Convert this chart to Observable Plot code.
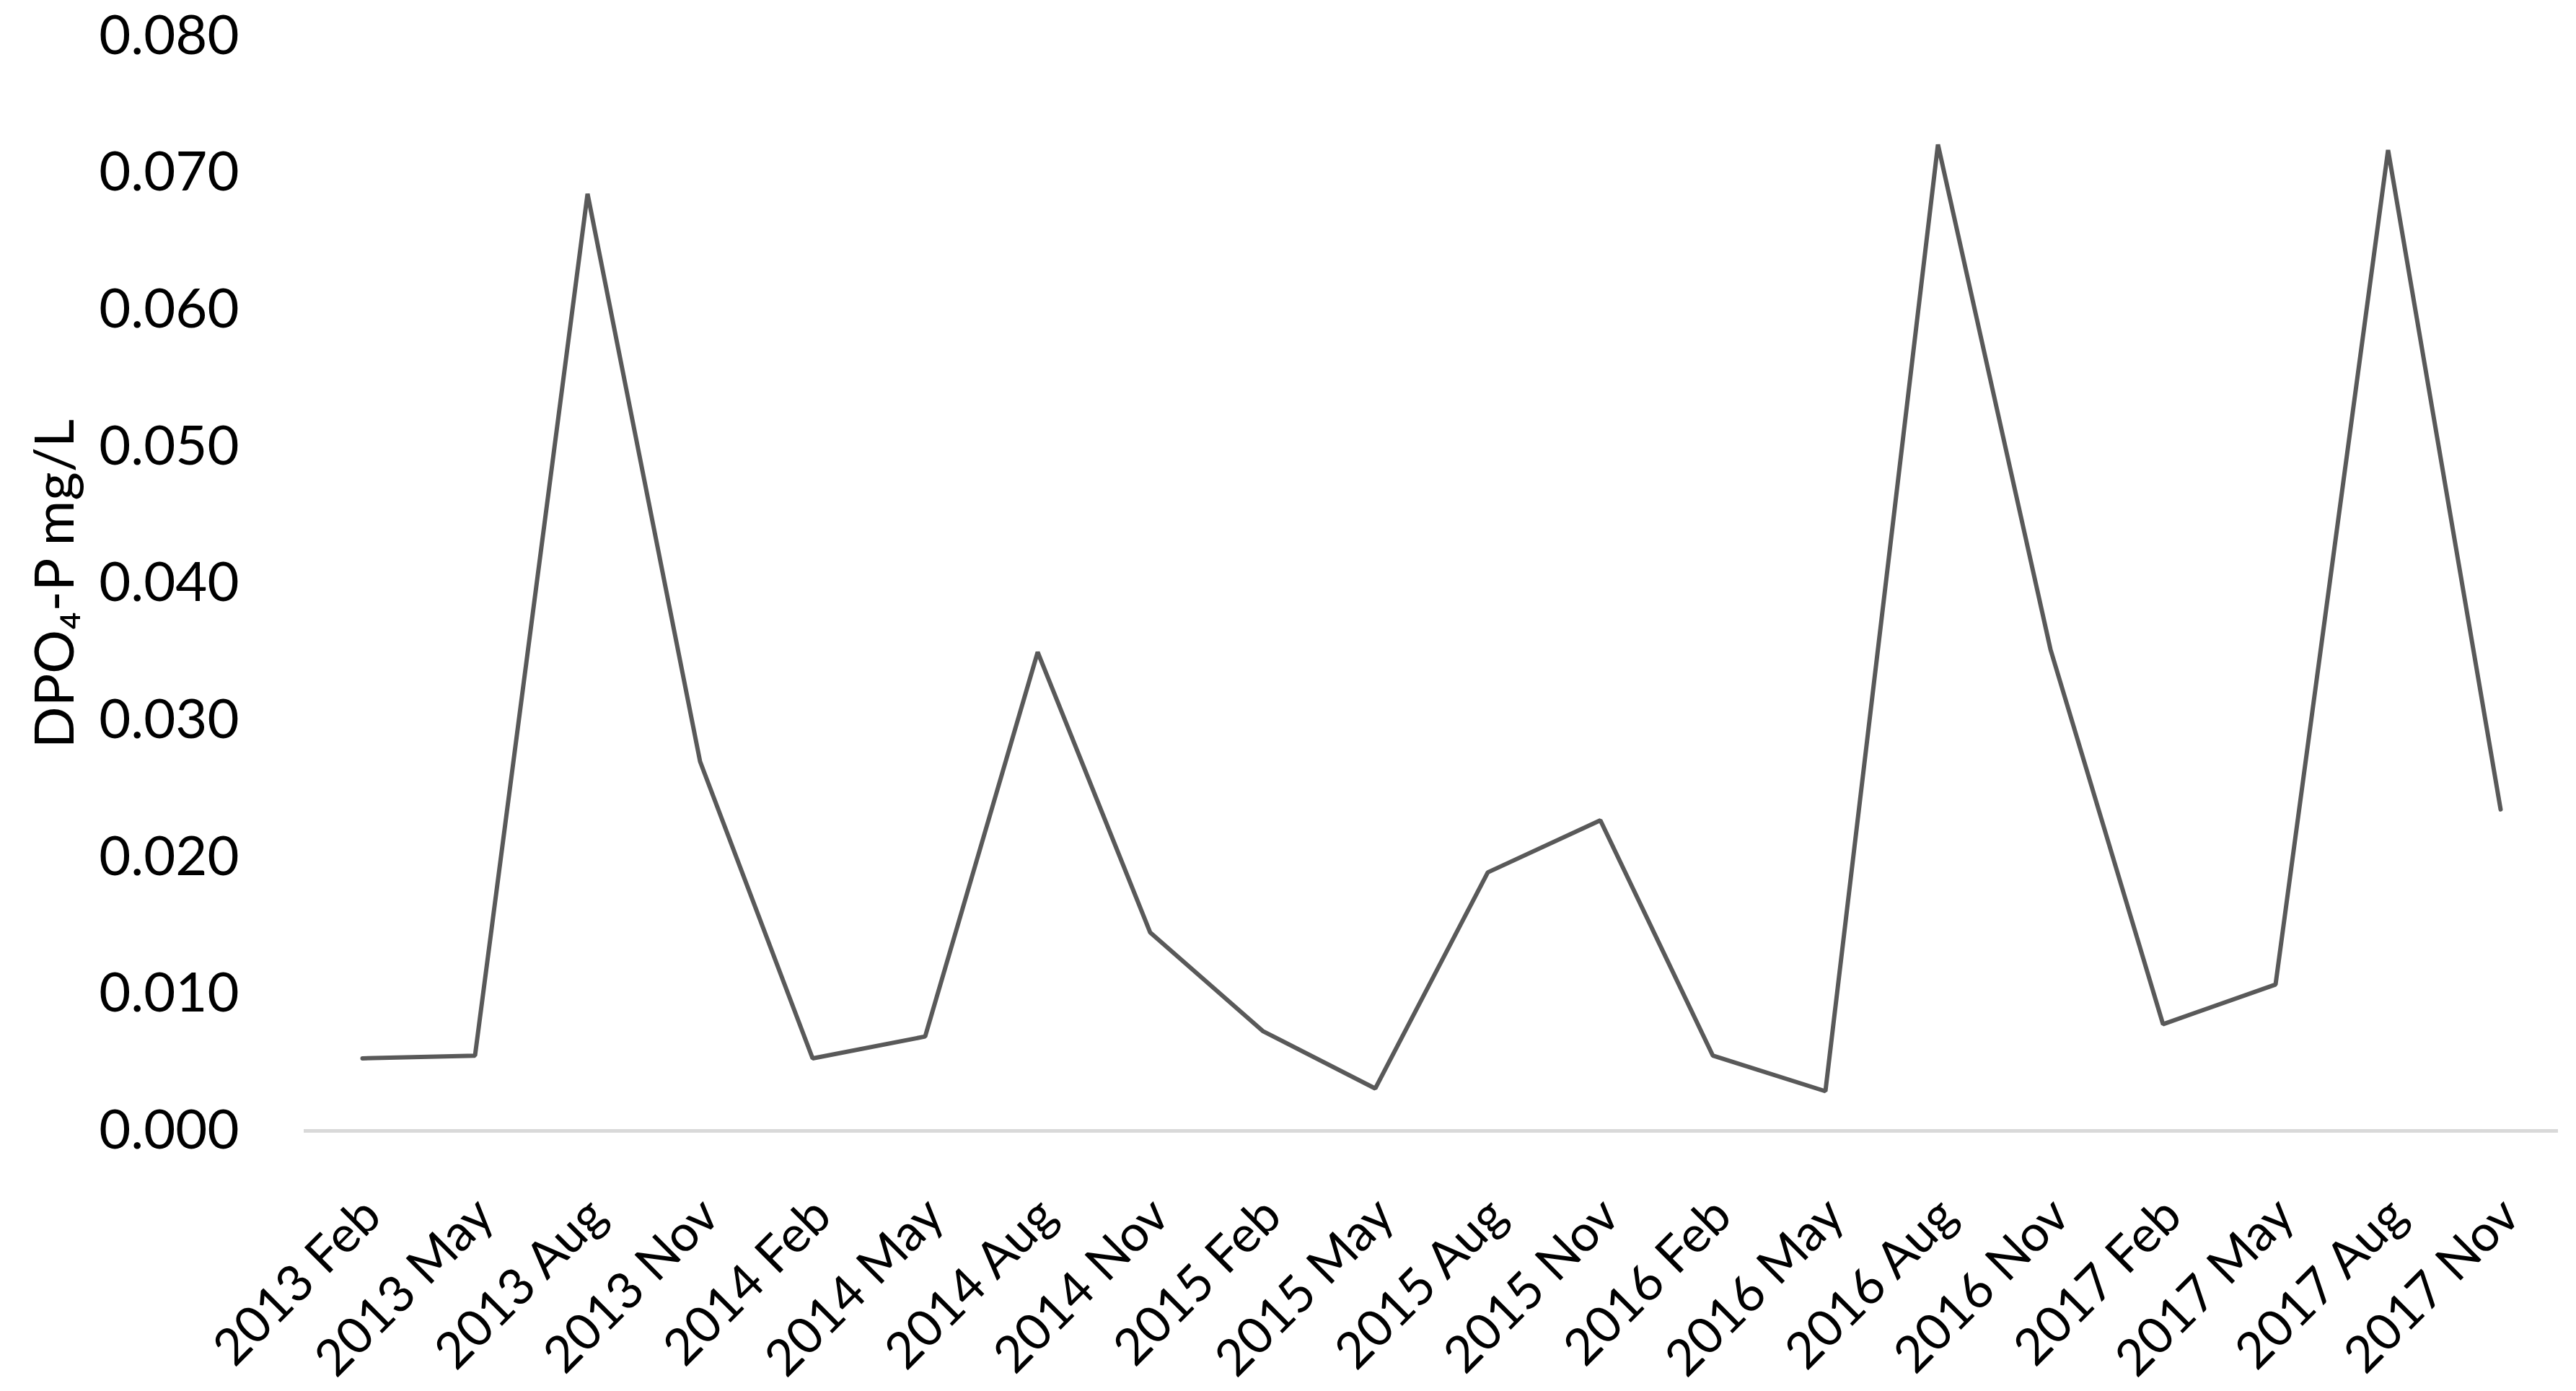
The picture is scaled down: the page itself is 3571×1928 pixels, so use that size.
<!DOCTYPE html>
<html>
<head>
<meta charset="utf-8">
<script src="https://cdn.jsdelivr.net/npm/d3@7"></script>
<script src="https://cdn.jsdelivr.net/npm/@observablehq/plot@0.6"></script>
<style>
  html, body { margin: 0; padding: 0; background: #fff; }
  #chart { width: 3571px; height: 1928px; }
</style>
</head>
<body>
<div id="chart"></div>
<script>
const periods = [
  "2013 Feb", "2013 May", "2013 Aug", "2013 Nov",
  "2014 Feb", "2014 May", "2014 Aug", "2014 Nov",
  "2015 Feb", "2015 May", "2015 Aug", "2015 Nov",
  "2016 Feb", "2016 May", "2016 Aug", "2016 Nov",
  "2017 Feb", "2017 May", "2017 Aug", "2017 Nov"
];
const dpo4p = [
  0.0053, 0.0055, 0.0685, 0.0270,
  0.0053, 0.0069, 0.0350, 0.0145,
  0.0073, 0.0031, 0.0189, 0.0227,
  0.0055, 0.0029, 0.0721, 0.0352,
  0.0078, 0.0107, 0.0717, 0.0235
];
const yTicks = [0, 0.01, 0.02, 0.03, 0.04, 0.05, 0.06, 0.07, 0.08];
const yTitle = "DPO\u2084-P mg/L";

const data = periods.map((p, i) => ({period: p, value: dpo4p[i]}));

const chart = Plot.plot({
  width: 3571,
  height: 1928,
  marginLeft: 421,
  marginRight: 25,
  marginTop: 50,
  marginBottom: 361,
  style: {fontFamily: "Lato, 'Open Sans', sans-serif", fontSize: "76px", color: "#000", background: "#fff"},
  x: {type: "point", domain: periods, padding: 0.5},
  y: {domain: [0, 0.08]},
  marks: [
    Plot.ruleY([0], {stroke: "#d9d9d9", strokeWidth: 5}),
    Plot.line(data, {x: "period", y: "value", stroke: "#595959", strokeWidth: 6, strokeLinejoin: "miter"}),
    Plot.axisY({
      ticks: yTicks,
      tickFormat: d3.format(".3f"),
      tickSize: 0,
      tickPadding: 90,
      fill: "#000",
      label: yTitle,
      labelAnchor: "center",
      labelArrow: "none",
      labelOffset: 373
    }),
    Plot.axisX({
      tickSize: 0,
      tickPadding: 106,
      tickRotate: -45,
      dx: 14,
      fontSize: 70,
      fill: "#000",
      label: null
    })
  ]
});
document.getElementById("chart").appendChild(chart);
</script>
</body>
</html>
